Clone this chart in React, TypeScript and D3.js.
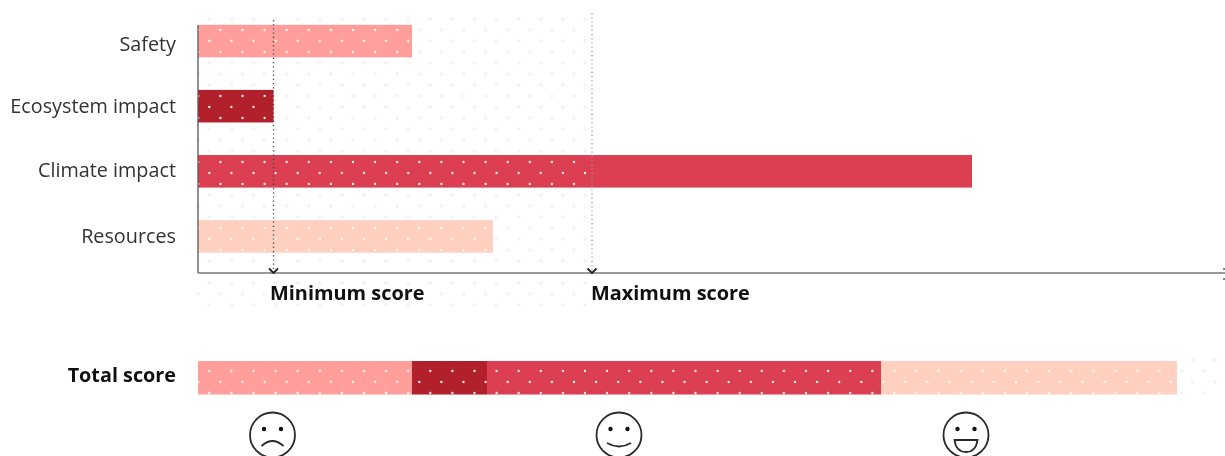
import React from "react";
import * as d3 from "d3";

const categories = ["Safety", "Ecosystem impact", "Climate impact", "Resources"];
const scores = [214, 75.5, 774, 295];
const totalParts = [214, 75, 394, 296];
const colors = ["#ff9e9a", "#b2212b", "#dc3f52", "#ffcfbf"];
const thresholds = [{ label: "Minimum score", value: 75.5, labelDx: -3.5, stroke: "#444" }, { label: "Maximum score", value: 394, labelDx: -1, stroke: "#999" }];
const faces = [74.5, 421, 768];
const W = 1225, H = 456;
const FONT = "'Open Sans', sans-serif";

const x = d3.scaleLinear().domain([0, 1027]).range([198, 1225]);
const y = d3.scaleBand<string>().domain(categories).range([8.5, 269]).paddingInner(0.5).paddingOuter(0.25);
const stackEnds = d3.cumsum(totalParts);
const stackStarts = [0, ...stackEnds.slice(0, -1)];

type Dot = { cx: number; cy: number };
function lattice(x0: number, x1: number, y0: number, y1: number): Dot[] {
  const out: Dot[] = [];
  d3.range(0, 60).forEach((r) => {
    const cy = 8 + r * 11;
    if (cy < y0 || cy > y1) return;
    const off = r % 2 === 1 ? 11 : 0;
    d3.range(0, 70).forEach((c) => {
      const cx = 198.3 + off + c * 22.1;
      if (cx >= x0 && cx <= x1) out.push({ cx, cy });
    });
  });
  return out;
}

const bars = categories.map((c, i) => ({ c, i, x0: x(0), x1: x(scores[i]), y0: y(c)!, y1: y(c)! + y.bandwidth() }));
const segs = totalParts.map((_, i) => ({ i, x0: x(stackStarts[i]), x1: x(stackEnds[i]) }));
const totalY = 361, totalH = 33.5;
const maxX = x(thresholds[1].value);

const bgDots = [
  ...lattice(198, maxX, 15, 268),
  ...lattice(198, maxX, 280, 308),
  ...lattice(x(stackEnds[3]), 1225, 358, 396),
];
const inside = (d: Dot) => bars.some((b) => d.cx >= b.x0 && d.cx <= b.x1 && d.cy >= b.y0 - 1 && d.cy <= b.y1 + 1);
const greyDots = bgDots.filter((d) => !inside(d));
const whiteDots = [
  ...bgDots.filter(inside),
  ...lattice(198, x(stackEnds[3]), 360, 396),
];

function Face({ cx, kind }: { cx: number; kind: number }) {
  const cy = 435;
  const mouth = kind === 0
    ? `M${cx - 11},${cy + 11} Q${cx},${cy + 1} ${cx + 11},${cy + 11}`
    : kind === 1
    ? `M${cx - 12},${cy + 8} Q${cx},${cy + 15} ${cx + 12},${cy + 8}`
    : `M${cx - 11.5},${cy + 5} L${cx + 11.5},${cy + 5} Q${cx + 10},${cy + 17} ${cx},${cy + 17} Q${cx - 10},${cy + 17} ${cx - 11.5},${cy + 5} Z`;
  return (
    <g fill="none" stroke="#2a2a2a" strokeWidth={1.8}>
      <circle cx={cx} cy={cy} r={22.5} />
      <circle cx={cx - 8.5} cy={cy - 6} r={2.2} fill="#111" stroke="none" />
      <circle cx={cx + 8.5} cy={cy - 6} r={2.2} fill="#111" stroke="none" />
      <path d={mouth} />
    </g>
  );
}

export default function App() {
  return (
    <svg width={W} height={H} viewBox={`0 0 ${W} ${H}`} style={{ position: "fixed", left: 0, top: 0, display: "block", filter: "blur(0.45px)" }} fontFamily={FONT}>
      <rect width={W} height={H} fill="#fff" />
      <g>
        {greyDots.map((d, i) => <circle key={i} cx={d.cx} cy={d.cy} r={1.3} fill="#fff" stroke="#e2e2e2" strokeWidth={0.6} />)}
      </g>
      {bars.map((b) => <rect key={b.c} x={b.x0} y={b.y0} width={b.x1 - b.x0} height={b.y1 - b.y0} fill={colors[b.i]} />)}
      {segs.map((s) => <rect key={s.i} x={s.x0} y={totalY} width={s.x1 - s.x0} height={totalH} fill={colors[s.i]} />)}
      <g>
        {whiteDots.map((d, i) => <circle key={i} cx={d.cx} cy={d.cy} r={1.15} fill="#fff" />)}
      </g>
      <line x1={198} x2={198} y1={25} y2={273} stroke="#555" strokeWidth={1.3} />
      <line x1={198} x2={W} y1={273} y2={273} stroke="#777" strokeWidth={1.3} />
      <path d={`M${W - 1},268 v2 M${W - 1},278 v2`} stroke="#555" strokeWidth={1.5} />
      {thresholds.map((t, i) => {
        const px = x(t.value);
        return (
          <g key={t.label}>
            <line x1={px} x2={px} y1={i === 0 ? 20 : 13} y2={270} stroke={t.stroke} strokeWidth={1.3} strokeDasharray="1.2 3" />
            <path d={`M${px - 4.5},268.5 L${px},273 L${px + 4.5},268.5`} fill="none" stroke="#222" strokeWidth={1.8} />
            <text x={px + t.labelDx} y={300} fontSize={19.9} fontWeight={700} fill="#111">{t.label}</text>
          </g>
        );
      })}
      {categories.map((c) => (
        <text key={c} x={176} y={y(c)! + y.bandwidth() / 2 + (c === "Safety" ? 9.5 : c === "Climate impact" ? 5.5 : 6.5)} textAnchor="end" fontSize={19.8} fill="#333">{c}</text>
      ))}
      <text x={176} y={382} textAnchor="end" fontSize={19.8} fontWeight={700} fill="#111">Total score</text>
      {faces.map((v, i) => <Face key={i} cx={x(v)} kind={i} />)}
    </svg>
  );
}
